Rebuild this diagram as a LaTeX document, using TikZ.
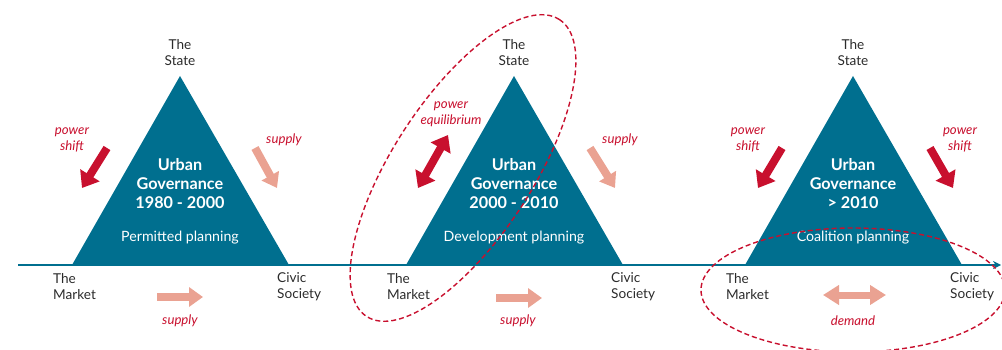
\documentclass[tikz,border=0pt]{standalone}
\usepackage{fontspec}
\setmainfont{Lato}
\usetikzlibrary{arrows.meta}
\definecolor{govteal}{HTML}{006F8F}
\definecolor{shiftred}{HTML}{C8102E}
\definecolor{supplypink}{HTML}{EAA292}
\definecolor{labeltext}{HTML}{2B2B2B}
\tikzset{
  corner/.style={text=labeltext, font=\fontsize{13.6}{16}\selectfont, align=left, inner sep=0pt},
  title/.style={text=white, font=\bfseries\fontsize{16.2}{19}\selectfont, align=center, inner sep=0pt},
  plan/.style={text=white, font=\fontsize{14.2}{16}\selectfont, inner sep=0pt},
  note/.style={text=shiftred, font=\itshape\fontsize{13.2}{16}\selectfont, align=center, inner sep=0pt},
  redarrow/.style={draw=shiftred, line width=8pt, -{Triangle[width=22pt,length=15pt]}},
  redboth/.style={draw=shiftred, line width=8pt, {Triangle[width=22pt,length=15pt]}-{Triangle[width=22pt,length=15pt]}},
  pinkarrow/.style={draw=supplypink, line width=8pt, -{Triangle[width=19pt,length=14pt]}},
  pinkboth/.style={draw=supplypink, line width=7pt, {Triangle[width=19pt,length=16pt]}-{Triangle[width=19pt,length=16pt]}},
  ring/.style={draw=shiftred, line width=1.4pt, dash pattern=on 5pt off 3pt},
}
\begin{document}
\begin{tikzpicture}[x=1pt,y=-1pt]
\useasboundingbox (0,0) rectangle (1002,350);

% the three triangles
\foreach \cx/\yrs/\plan/\n in {180/1980 - 2000/Permitted planning/1, 514/2000 - 2010/Development planning/2, 853/> 2010/Coalition planning/3}
{
	\coordinate (apex\n) at (\cx,76);
	\coordinate (left\n) at (\cx-108,265);
	\coordinate (right\n) at (\cx+109,265);
	\fill[govteal] (apex\n) -- (left\n) -- (right\n) -- cycle;
	\node[corner, align=center] (state\n) at (\cx,53) {The\\State};
	\node[corner, anchor=west] (market\n) at (\cx-127,287) {The\\Market};
	\node[corner, anchor=west] (civic\n) at (\cx+97,287) {Civic\\Society};
	\node[title] (gov\n) at (\cx,184) {Urban\\Governance\\\yrs};
	\node[plan] (plan\n) at (\cx,238) {\plan};
}

% time axis
\coordinate (axisstart) at (18,265);
\coordinate (axisend) at (1001,265);
\draw[govteal, line width=2pt, -{Stealth[length=8pt,width=8pt]}] (axisstart) -- (axisend);

% 1980 - 2000
\node[note] (shift1) at (72,140) {power\\shift};
\coordinate (s1a) at (107,148); \coordinate (s1b) at (82,188);
\draw[redarrow] (s1a) -- (s1b);
\node[note] (supplyr1) at (284,140) {supply};
\coordinate (r1a) at (255,148); \coordinate (r1b) at (277,188);
\draw[pinkarrow] (r1a) -- (r1b);
\coordinate (b1a) at (157,297); \coordinate (b1b) at (203,297);
\draw[pinkarrow] (b1a) -- (b1b);
\node[note] (supplyb1) at (180,321) {supply};

% 2000 - 2010
\node[note] (equi2) at (451,114) {power\\equilibrium};
\coordinate (s2a) at (448,135); \coordinate (s2b) at (418,188);
\draw[redboth] (s2a) -- (s2b);
\node[note] (supplyr2) at (620,140) {supply};
\coordinate (r2a) at (590,148); \coordinate (r2b) at (615,188);
\draw[pinkarrow] (r2a) -- (r2b);
\coordinate (b2a) at (496,298); \coordinate (b2b) at (542,298);
\draw[pinkarrow] (b2a) -- (b2b);
\node[note] (supplyb2) at (518,321) {supply};
\coordinate (ring2) at (463,168);
\draw[ring] (ring2) circle [x radius=177pt, y radius=70pt, rotate=57];

% > 2010
\node[note] (shift3) at (748,140) {power\\shift};
\coordinate (s3a) at (782,148); \coordinate (s3b) at (758,188);
\draw[redarrow] (s3a) -- (s3b);
\node[note] (shift3r) at (960,140) {power\\shift};
\coordinate (t3a) at (930,148); \coordinate (t3b) at (953,188);
\draw[redarrow] (t3a) -- (t3b);
\coordinate (b3a) at (823,295); \coordinate (b3b) at (886,295);
\draw[pinkboth] (b3a) -- (b3b);
\node[note] (demand3) at (853,321) {demand};
\coordinate (ring3) at (853,290);
\draw[ring] (ring3) circle [x radius=152pt, y radius=62pt];
\end{tikzpicture}
\end{document}
